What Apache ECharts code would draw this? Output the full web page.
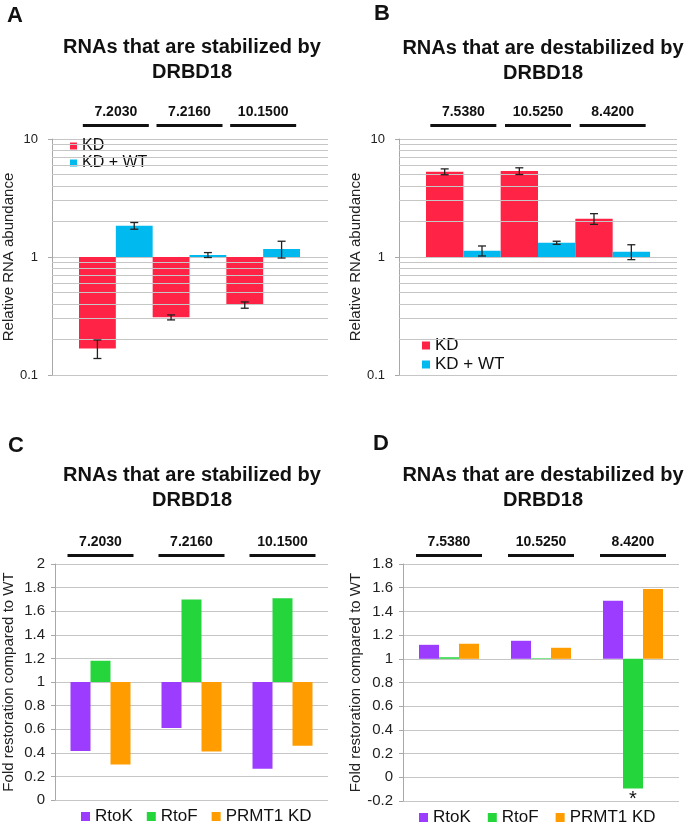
<!DOCTYPE html>
<html>
<head>
<meta charset="utf-8">
<script src="https://cdn.jsdelivr.net/npm/echarts@6.0.0/dist/echarts.min.js"></script>
<style>
  html, body { margin: 0; padding: 0; background: #fff; }
  #chart { width: 684px; height: 826px; }
</style>
</head>
<body>
<div id="chart"></div>
<script>
const stabilizedGroups = ['7.2030', '7.2160', '10.1500']
const destabilizedGroups = ['7.5380', '10.5250', '8.4200']

// panel A: relative RNA abundance (log)
const aKD = [0.168, 0.308, 0.392]
const aKDErr = [0.03, 0.015, 0.024]
const aWT = [1.84, 1.04, 1.17]
const aWTErr = [0.12, 0.05, 0.19]

// panel B
const bKD = [5.28, 5.35, 2.11]
const bKDErr = [0.3, 0.35, 0.22]
const bWT = [1.13, 1.32, 1.11]
const bWTErr = [0.11, 0.04, 0.16]

// panel C: fold restoration compared to WT
const cRtoK = [0.415, 0.61, 0.265]
const cRtoF = [1.18, 1.70, 1.71]
const cPRMT1 = [0.30, 0.41, 0.46]

// panel D
const dRtoK = [1.118, 1.152, 1.49]
const dRtoF = [1.013, 1.005, -0.094]
const dPRMT1 = [1.127, 1.093, 1.59]

const logMinorLines = [0.2, 0.3, 0.4, 0.5, 0.6, 0.7, 0.8, 0.9, 2, 3, 4, 5, 6, 7, 8, 9]

const FONT = 'Liberation Sans, Arial, sans-serif'
const RED = '#ff2446'
const CYAN = '#00b9ee'
const PURPLE = '#9b3cff'
const GREEN = '#24d63c'
const ORANGE = '#ff9c00'
const GRIDLINE = '#c6c6c6'
const AXISLINE = '#a8a8a8'

const chart = echarts.init(document.getElementById('chart'))

function groupHeader(margin) {
  return {
    interval: 0,
    margin: margin,
    formatter: v => '{t|' + v + '}\n{l| }',
    rich: {
      t: {fontSize: 14, fontWeight: 'bold', color: '#111', lineHeight: 24, fontFamily: FONT},
      l: {width: 66, height: 3, lineHeight: 3, backgroundColor: '#111'}
    }
  }
}

function logBackAxis(gridIndex) {
  return {
    type: 'log', logBase: 10, min: 0.1, max: 10, gridIndex,
    name: 'Relative RNA abundance', nameLocation: 'middle', nameGap: 33,
    nameTextStyle: {fontSize: 15, color: '#222', fontFamily: FONT},
    axisLine: {show: true, lineStyle: {color: AXISLINE}},
    axisTick: {show: true, length: 4, lineStyle: {color: AXISLINE}},
    axisLabel: {fontSize: 13, color: '#222', margin: 14, fontFamily: FONT,
      formatter: v => String(Math.round(v * 10) / 10)},
    splitLine: {show: true, lineStyle: {color: GRIDLINE}}
  }
}

function linearAxis(gridIndex, min, max) {
  return {
    type: 'value', min, max, interval: 0.2, startValue: 1, gridIndex,
    name: 'Fold restoration compared to WT', nameLocation: 'middle', nameGap: 39,
    nameTextStyle: {fontSize: 15, color: '#222', fontFamily: FONT},
    axisLine: {show: true, lineStyle: {color: AXISLINE}},
    axisTick: {show: true, length: 4, lineStyle: {color: AXISLINE}},
    axisLabel: {fontSize: 15, color: '#222', margin: 10, fontFamily: FONT,
      formatter: v => String(Math.round(v * 10) / 10)},
    splitLine: {show: true, lineStyle: {color: GRIDLINE}}
  }
}

function errorBars(offset) {
  return function (params, api) {
    const i = api.value(0), v = api.value(1), e = api.value(2)
    const bw = api.coord([1, 1])[0] - api.coord([0, 1])[0]
    const x = api.coord([i, v])[0] + offset * bw / 4
    const y1 = api.coord([i, v + e])[1]
    const y2 = api.coord([i, v - e])[1]
    const st = {stroke: '#222', lineWidth: 1.3}
    return {
      type: 'group',
      children: [
        {type: 'line', shape: {x1: x, y1: y1, x2: x, y2: y2}, style: st},
        {type: 'line', shape: {x1: x - 4, y1: y1, x2: x + 4, y2: y1}, style: st},
        {type: 'line', shape: {x1: x - 4, y1: y2, x2: x + 4, y2: y2}, style: st}
      ]
    }
  }
}

function errSeries(name, idx, vals, errs, offset) {
  return {
    name, type: 'custom', xAxisIndex: idx, yAxisIndex: idx, z: 5, silent: true,
    renderItem: errorBars(offset),
    encode: {x: 0, y: 1},
    data: vals.map((v, i) => [i, v, errs[i]])
  }
}

function minorLines(idx) {
  return {
    name: 'minor' + idx, type: 'line', xAxisIndex: idx, yAxisIndex: idx,
    data: ['-', '-', '-'], symbol: 'none', silent: true,
    markLine: {
      silent: true, symbol: ['none', 'none'], label: {show: false},
      lineStyle: {color: GRIDLINE, type: 'solid', width: 1},
      data: logMinorLines.map(v => ({yAxis: v}))
    }
  }
}

const titleStyle = {fontSize: 20, fontWeight: 'bold', color: '#111', lineHeight: 25, fontFamily: FONT}
const letterStyle = {fontSize: 22, fontWeight: 'bold', color: '#111', fontFamily: FONT}

const option = {
  backgroundColor: '#fff',
  animation: false,
  title: [
    {text: 'RNAs that are stabilized by\nDRBD18', left: 187, top: 30, textAlign: 'center', textStyle: titleStyle},
    {text: 'RNAs that are destabilized by\nDRBD18', left: 538, top: 31, textAlign: 'center', textStyle: titleStyle},
    {text: 'RNAs that are stabilized by\nDRBD18', left: 187, top: 458, textAlign: 'center', textStyle: titleStyle},
    {text: 'RNAs that are destabilized by\nDRBD18', left: 538, top: 458, textAlign: 'center', textStyle: titleStyle},
    {text: 'A', left: 2, top: 0, textStyle: letterStyle},
    {text: 'B', left: 369, top: -2, textStyle: letterStyle},
    {text: 'C', left: 3, top: 430, textStyle: letterStyle},
    {text: 'D', left: 368, top: 428, textStyle: letterStyle}
  ],
  legend: [
    {data: ['KD', 'KD + WT'], orient: 'vertical', left: 70, top: 138, padding: 0, icon: 'rect',
      itemWidth: 7, itemHeight: 7, itemGap: 1,
      textStyle: {fontSize: 16, lineHeight: 16, color: '#111', fontFamily: FONT}},
    {data: ['KD', 'KD + WT'], orient: 'vertical', left: 422, top: 337, padding: 0, icon: 'rect',
      itemWidth: 8, itemHeight: 8, itemGap: 2,
      textStyle: {fontSize: 17, lineHeight: 17, color: '#111', fontFamily: FONT}},
    {data: ['RtoK', 'RtoF', 'PRMT1 KD'], left: 81, top: 808, padding: 0, icon: 'rect',
      itemWidth: 9, itemHeight: 9, itemGap: 14,
      textStyle: {fontSize: 17, lineHeight: 17, color: '#111', fontFamily: FONT}},
    {data: ['RtoK', 'RtoF', 'PRMT1 KD'], left: 419, top: 809, padding: 0, icon: 'rect',
      itemWidth: 9, itemHeight: 9, itemGap: 17,
      textStyle: {fontSize: 17, lineHeight: 17, color: '#111', fontFamily: FONT}}
  ],
  grid: [
    {left: 51, top: 139, width: 277, height: 236},
    {left: 79, top: 139, width: 221, height: 236},
    {left: 399, top: 139, width: 278, height: 236},
    {left: 426, top: 139, width: 224, height: 236},
    {left: 52, top: 564, width: 276, height: 236},
    {left: 403, top: 564, width: 276, height: 237}
  ],
  xAxis: [
    {type: 'category', gridIndex: 0, data: stabilizedGroups, show: false},
    {type: 'category', gridIndex: 1, data: stabilizedGroups, position: 'top',
      axisLine: {show: false}, axisTick: {show: false}, axisLabel: groupHeader(12)},
    {type: 'category', gridIndex: 2, data: destabilizedGroups, show: false},
    {type: 'category', gridIndex: 3, data: destabilizedGroups, position: 'top',
      axisLine: {show: false}, axisTick: {show: false}, axisLabel: groupHeader(12)},
    {type: 'category', gridIndex: 4, data: stabilizedGroups, position: 'top',
      axisLine: {show: false}, axisTick: {show: false}, axisLabel: groupHeader(7)},
    {type: 'category', gridIndex: 5, data: destabilizedGroups, position: 'top',
      axisLine: {show: false}, axisTick: {show: false}, axisLabel: groupHeader(7)}
  ],
  yAxis: [
    logBackAxis(0),
    {type: 'log', logBase: 10, min: 0.1, max: 10, gridIndex: 1, show: false, splitLine: {show: false}},
    logBackAxis(2),
    {type: 'log', logBase: 10, min: 0.1, max: 10, gridIndex: 3, show: false, splitLine: {show: false}},
    linearAxis(4, 0, 2),
    linearAxis(5, -0.2, 1.8)
  ],
  series: [
    minorLines(0),
    minorLines(2),
    {name: 'KD', type: 'bar', xAxisIndex: 1, yAxisIndex: 1, data: aKD,
      barGap: 0, barCategoryGap: 0, itemStyle: {color: RED}},
    {name: 'KD + WT', type: 'bar', xAxisIndex: 1, yAxisIndex: 1, data: aWT,
      barGap: 0, barCategoryGap: 0, itemStyle: {color: CYAN}},
    errSeries('errAKD', 1, aKD, aKDErr, -1),
    errSeries('errAWT', 1, aWT, aWTErr, 1),
    {name: 'KD', type: 'bar', xAxisIndex: 3, yAxisIndex: 3, data: bKD,
      barGap: 0, barCategoryGap: 0, itemStyle: {color: RED}},
    {name: 'KD + WT', type: 'bar', xAxisIndex: 3, yAxisIndex: 3, data: bWT,
      barGap: 0, barCategoryGap: 0, itemStyle: {color: CYAN}},
    errSeries('errBKD', 3, bKD, bKDErr, -1),
    errSeries('errBWT', 3, bWT, bWTErr, 1),
    {name: 'RtoK', type: 'bar', xAxisIndex: 4, yAxisIndex: 4, data: cRtoK, barWidth: 20, barGap: 0, itemStyle: {color: PURPLE}},
    {name: 'RtoF', type: 'bar', xAxisIndex: 4, yAxisIndex: 4, data: cRtoF, barWidth: 20, barGap: 0, itemStyle: {color: GREEN}},
    {name: 'PRMT1 KD', type: 'bar', xAxisIndex: 4, yAxisIndex: 4, data: cPRMT1, barWidth: 20, barGap: 0, itemStyle: {color: ORANGE}},
    {name: 'RtoK', type: 'bar', xAxisIndex: 5, yAxisIndex: 5, data: dRtoK, barWidth: 20, barGap: 0, itemStyle: {color: PURPLE}},
    {name: 'RtoF', type: 'bar', xAxisIndex: 5, yAxisIndex: 5, barWidth: 20, barGap: 0, itemStyle: {color: GREEN},
      data: dRtoF.map((v, i) => i === 2 ? {value: v, label: {show: true, position: 'bottom', distance: 1, formatter: '*', fontSize: 20, color: '#111', fontFamily: FONT}} : v)},
    {name: 'PRMT1 KD', type: 'bar', xAxisIndex: 5, yAxisIndex: 5, data: dPRMT1, barWidth: 20, barGap: 0, itemStyle: {color: ORANGE}}
  ]
}

chart.setOption(option)
</script>
</body>
</html>
